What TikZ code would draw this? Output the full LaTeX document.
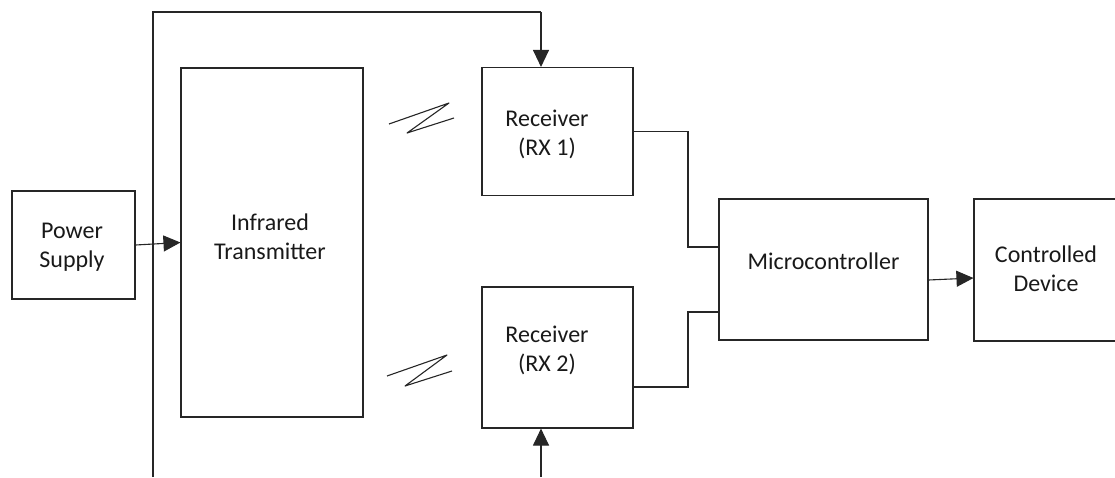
\documentclass[tikz,border=0pt]{standalone}
\usepackage{fontspec}
\setmainfont{Carlito}
\usetikzlibrary{arrows.meta}
\begin{document}
\begin{tikzpicture}[x=1pt,y=-1pt,
  line/.style={line width=1.1pt,draw=black!85},
  blk/.style={line,rectangle,inner sep=0pt},
  lbl/.style={align=center,font=\fontsize{24}{29}\selectfont,inner sep=0pt,anchor=base,text=black!90},
  arr/.style={line,-{Triangle[length=17pt,width=16pt]}}]
\useasboundingbox (0,0) rectangle (1115,477);
% boxes
\node[blk,minimum width=123pt,minimum height=108pt] (PS) at (73.5,245) {};
\node[blk,minimum width=182pt,minimum height=349pt] (TX) at (272,242.5) {};
\node[blk,minimum width=151pt,minimum height=128pt] (R1) at (557.5,131.5) {};
\node[blk,minimum width=151pt,minimum height=141pt] (R2) at (557.5,357.5) {};
\node[blk,minimum width=209pt,minimum height=141pt] (M) at (823.5,269.5) {};
\node[blk,minimum width=146pt,minimum height=142pt] (CD) at (1047,270) {};
% labels
\node[lbl] (tPS) at (72,267) {Power\\Supply};
\node[lbl] (tTX) at (270,259) {Infrared\\Transmitter};
\node[lbl] (tR1) at (547,155) {Receiver\\(RX 1)};
\node[lbl] (tR2) at (547,371) {Receiver\\(RX 2)};
\node[lbl] (tM) at (823.5,269) {Microcontroller};
\node[lbl] (tCD) at (1046,291) {Controlled\\Device};
% coordinates
\coordinate (top1) at (153,12);
\coordinate (bot1) at (153,477);
\coordinate (top2) at (541,12);
\coordinate (bot2) at (541,477);
\coordinate (j1) at (688,247);
\coordinate (j2) at (688,312);
% connectors
\draw[line] (bot1) -- (top1) -- (top2);
\draw[arr] (top2) -- (top2 |- R1.north);
\draw[arr] (bot2) -- (bot2 |- R2.south);
\draw[arr] (PS.east) -- (TX.west);
\draw[line] (R1.east) -| (j1) -- (j1 -| M.west);
\draw[line] ([yshift=-29.5pt]R2.east) -| (j2) -- (j2 -| M.west);
\draw[arr] ([yshift=-10.5pt]M.east) -- ([yshift=-8pt]CD.west);
% infrared zigzags
\draw[line,line join=round] (389,124) -- (449,103) -- (407,133) -- (454,118);
\draw[line,line join=round] (387,376) -- (447,355) -- (405,386) -- (452,371);
\end{tikzpicture}
\end{document}
